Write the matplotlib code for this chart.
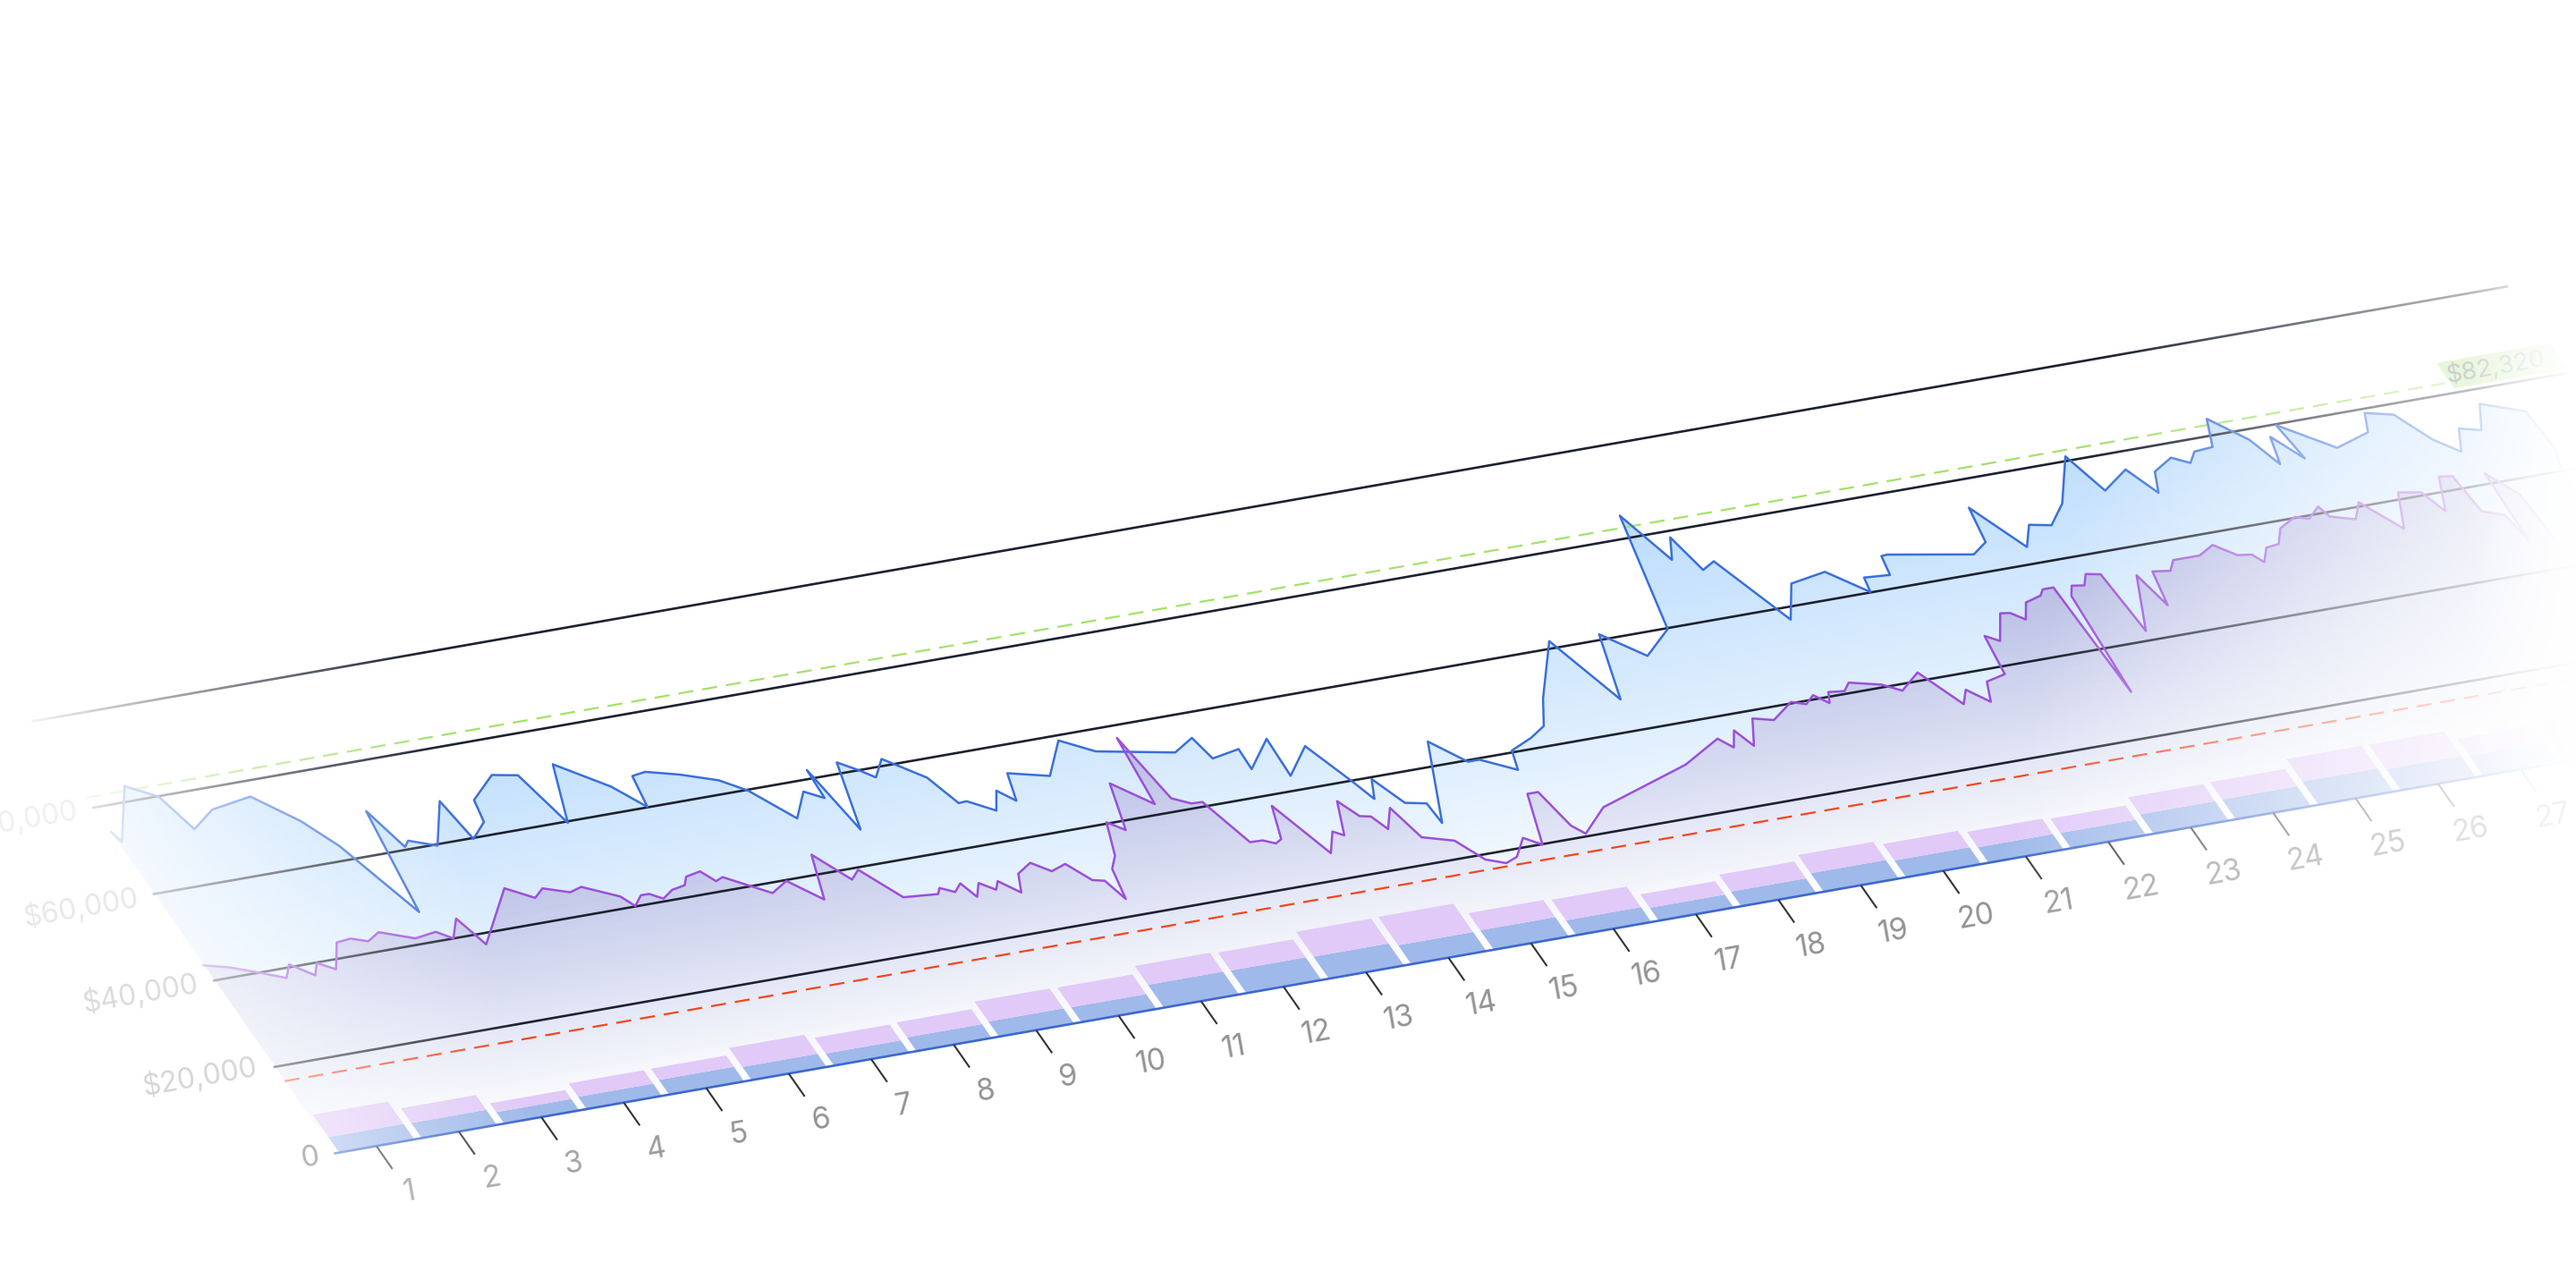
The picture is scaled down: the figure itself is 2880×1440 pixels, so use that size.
import numpy as np
import matplotlib
matplotlib.use("Agg")
import matplotlib.pyplot as plt
from matplotlib.patches import FancyBboxPatch
from matplotlib.path import Path
from matplotlib.transforms import Affine2D

plt.rcParams["font.family"] = ["Inter", "DejaVu Sans"]

# values: x is the position along the day axis
blue_x = [0.01, 0.05, 0.50, 0.79, 0.93, 1.27, 1.78, 2.14, 2.37, 2.73, 2.92, 3.07, 3.15, 3.43, 3.79, 3.87,
          4.11, 4.17, 4.55, 4.83, 5.01, 5.29, 5.75, 5.99, 6.06, 6.23, 6.58, 6.96, 7.20, 7.52, 7.79, 7.97,
          7.99, 8.12, 8.37, 8.55, 8.68, 8.88, 9.23, 9.38, 9.48, 9.73, 9.88, 10.02, 10.13, 10.57, 10.93,
          11.25, 12.10, 12.39, 12.46, 12.81, 12.80, 13.19, 13.17, 13.55, 13.79, 13.90, 14.02, 14.20,
          14.43, 14.45, 14.91, 15.19, 15.33, 15.67, 15.75, 16.05, 16.28, 16.48, 16.98, 17.31, 17.57,
          17.93, 18.35, 18.69, 18.92, 19.07, 19.18, 19.36, 19.75, 20.03, 20.48, 20.82, 20.86, 21.16,
          21.21, 21.28, 22.22, 22.44, 22.52, 22.85, 23.04, 23.28, 23.56, 23.95, 24.12, 24.50, 24.68,
          24.80, 25.08, 25.25, 25.38, 25.61, 25.76, 26.06, 26.21, 26.31, 26.52, 26.46, 26.95, 27.40,
          27.51, 27.81, 28.04, 28.26, 28.41, 28.64, 28.82, 29.26, 29.30, 29.21]
blue_y = [74300, 71900, 83300, 79900, 71900, 75300, 76600, 69700, 63100, 46700, 69400, 60600, 61800, 59700,
          68800, 59800, 62900, 67800, 72300, 71300, 59700, 72300, 65600, 60100, 67000, 67400, 65600, 63000,
          59800, 52300, 57600, 55500, 61900, 47700, 62400, 60000, 57900, 61500, 56000, 49600, 49700, 46700,
          50800, 48000, 54000, 51900, 58900, 55300, 52200, 54600, 49600, 50600, 46000, 51700, 43200, 48800,
          39900, 35400, 39600, 33500, 32600, 28000, 45300, 39700, 39700, 36200, 40400, 42300, 44300, 50000,
          61600, 47000, 61200, 55000, 59800, 84900, 73900, 78600, 70700, 72100, 57300, 64700, 65900, 60100,
          63300, 62900, 67100, 67200, 64100, 66200, 73900, 63700, 68200, 67300, 71400, 81000, 72500, 76100,
          70100, 74600, 76900, 75100, 77300, 77600, 83600, 77800, 71600, 77600, 71900, 79800, 72900, 75000,
          79100, 77700, 71200, 67600, 72500, 71300, 76800, 73600, 64800, 60700]

purple_x = [0.00, 0.27, 0.53, 0.80, 0.93, 1.13, 1.24, 1.40, 1.61, 1.79, 1.96, 2.14, 2.49, 2.76, 2.90, 3.08,
            3.21, 3.83, 4.09, 4.24, 4.51, 4.67, 5.02, 5.11, 5.25, 5.35, 5.47, 5.63, 5.80, 5.88, 6.07, 6.17,
            6.27, 6.69, 6.93, 7.20, 7.40, 7.65, 7.79, 8.07, 8.47, 8.53, 8.67, 8.79, 8.87, 8.99, 9.13, 9.21,
            9.38, 9.49, 9.70, 9.87, 10.07, 10.24, 10.37, 10.46, 10.54, 10.67, 10.83, 10.98, 11.16, 11.49,
            11.58, 11.71, 11.89, 12.02, 12.23, 12.38, 12.50, 12.59, 12.74, 13.02, 13.20, 13.30, 13.48, 13.61,
            13.73, 13.82, 14.00, 14.12, 14.45, 14.64, 14.84, 15.00, 15.21, 15.37, 15.59, 15.72, 15.82, 15.92,
            16.31, 17.52, 18.06, 18.17, 18.30, 18.40, 18.59, 18.81, 19.13, 19.28, 19.42, 19.54, 19.61, 19.79,
            19.90, 20.24, 20.42, 20.72, 20.98, 21.11, 21.29, 21.40, 21.65, 21.72, 21.85, 22.06, 22.17, 22.29,
            22.42, 22.63, 22.70, 22.83, 22.88, 22.96, 23.04, 23.18, 23.28, 23.44, 23.50, 23.82, 23.93, 24.02,
            24.22, 24.33, 24.65, 24.87, 25.06, 25.22, 25.30, 25.43, 25.59, 25.73, 25.97, 26.11, 26.30, 26.35,
            26.61, 26.77, 27.06, 27.27, 27.52, 27.64, 27.83, 27.98, 28.03, 28.25, 28.32, 28.35, 28.57, 28.61]
purple_y = [43500, 42100, 40100, 37900, 40600, 37400, 39900, 37900, 43400, 43700, 42500, 44000, 41400, 42000,
            40000, 44000, 37600, 48500, 45400, 47100, 45300, 46000, 42600, 40100, 42100, 42100, 40600, 42100,
            42600, 44300, 44900, 42300, 42900, 37800, 39800, 34600, 44300, 37700, 39500, 32200, 31600, 32800,
            31400, 33000, 29600, 32400, 30400, 32100, 28900, 32900, 34700, 32200, 33200, 28900, 28300, 23800,
            30500, 33100, 40300, 38000, 48200, 42300, 57300, 42900, 41100, 41000, 31000, 30900, 29800, 30500,
            37700, 25800, 30200, 29000, 36300, 32400, 31900, 28700, 33000, 25800, 23900, 18900, 17400, 18300,
            22000, 19900, 30900, 30900, 22800, 20600, 25400, 31200, 35400, 33000, 36500, 32600, 38300, 37200,
            40300, 39300, 40900, 38700, 41000, 40600, 42200, 40600, 38600, 41800, 33600, 36500, 33100, 37400,
            38300, 46900, 45300, 51000, 50700, 48800, 52300, 53200, 54400, 54400, 30100, 52000, 54100, 53700,
            56000, 55400, 42100, 53900, 46600, 54100, 53600, 55700, 55700, 57400, 54400, 54000, 52000, 54900,
            55200, 58400, 60200, 59300, 61500, 59000, 57500, 60900, 53800, 61500, 60700, 55900, 63300, 62900,
            54600, 53000, 47100, 62300, 56700, 46100]

bar_blue = [3600, 3500, 2650, 2850, 3400, 3050, 2800, 3200, 3500, 3450, 5300, 5250, 5100, 4400, 4500,
            3450, 3000, 3400, 4300, 3900, 3600, 3550, 4500, 4600, 5400, 4900, 4600, 4500, 4000, 3500]
bar_purple = [5150, 3400, 2050, 3100, 2600, 4400, 3650, 3450, 4600, 4550, 4350, 4150, 5750, 6550, 3950,
              4750, 3100, 3900, 4200, 3800, 3550, 3300, 3950, 4000, 5200, 5700, 4000, 4500, 4000, 3500]
day_labels = [str(i) for i in range(1, 28)]
grid_values = [20000, 40000, 60000, 80000, 100000]
value_labels = ["0", "$20,000", "$40,000", "$60,000", "$80,000"]
label_values = [0, 20600, 40000, 59800, 80000]
target_value = 82320
floor_value = 16700

# grey of each label, they fade out towards both ends of the chart
day_greys = ["#b5b5b5", "#adadad", "#a5a5a5", "#9c9c9c", "#969696"] + ["#939393"] * 15 + \
            ["#a0a0a0", "#b4b4b4", "#bdbdbd", "#c8c8c8", "#d2d2d2", "#e2e2e2", "#f2f2f2"]
value_greys = ["#b4b4b4", "#d6d6d6", "#dcdcdc", "#e8e8e8", "#f0f0f0"]

fig = plt.figure(figsize=(14.4, 7.2), dpi=200, facecolor="white")
ax = fig.add_axes([0, 0, 1, 1])
ax.set_axis_off()
ax_top = fig.add_axes([0, 0, 1, 1], zorder=30)
ax_top.set_axis_off()

# the whole chart is drawn tilted, this maps (day, value) to pixels
skew = Affine2D.from_values(92.2, 16.2, -0.00338, 0.00483, 374.7, 150.6)


def gradient_area(x, y, rgb, top_alpha, top_value, z):
    verts = [(x[0], 0)] + list(zip(x, y)) + [(x[-1], 0)]
    ramp = np.clip(np.linspace(0, 100000, 400) / top_value, 0, 1.2) * top_alpha
    img = np.zeros((400, 2, 4))
    img[..., :3] = rgb
    img[..., 3] = ramp[:, None]
    im = ax.imshow(img, extent=(0, 30, 0, 100000), origin="lower", aspect="auto",
                   interpolation="bilinear", transform=skew, zorder=z)
    im.set_clip_path(Path(verts + [verts[0]]), transform=skew)


gradient_area(blue_x, blue_y, (0.22, 0.60, 0.98), 0.34, 85000, 1)
gradient_area(purple_x, purple_y, (0.43, 0.27, 0.63), 0.30, 65000, 1.5)

for v in grid_values:
    ax.plot([0, 30], [v, v], color="#1d2130", lw=0.95, transform=skew, zorder=2)

ax.plot([0, 28.6], [target_value] * 2, color="#a3e26a", lw=0.8, dashes=(7.6, 4.5), transform=skew, zorder=2)
ax.plot([0, 28.6], [floor_value] * 2, color="#f4451f", lw=0.8, dashes=(7.6, 4.5), transform=skew, zorder=2)

days = np.arange(30)
ax.bar(days + 0.05, bar_blue, width=0.91, align="edge", color="#9fb9ea", lw=0, transform=skew, zorder=3)
ax.bar(days + 0.05, bar_purple, width=0.91, align="edge", bottom=bar_blue, color="#e1c9f8", lw=0,
       transform=skew, zorder=3)

ax.plot(blue_x, blue_y, color="#3a6fdb", lw=0.9, transform=skew, zorder=4)
ax.plot(purple_x, purple_y, color="#9b4fd9", lw=0.9, transform=skew, zorder=4)

ax.plot([0, 30], [0, 0], color="#3d68cf", lw=0.95, transform=skew, zorder=5)
tick_x = days[:27] + 0.5
ax.vlines(tick_x, -5300, 0, color="#333333", lw=0.75, transform=skew, zorder=5)

for d, lab, grey in zip(tick_x, day_labels, day_greys):
    ax_top.text(d, -10800, lab, transform=skew, fontsize=12, color=grey, rotation=10,
                rotation_mode="anchor", ha="center", va="center")
for v, lab, grey in zip(label_values, value_labels, value_greys):
    ax_top.text(-0.2, v, lab, transform=skew, fontsize=11.5, color=grey, rotation=10,
                rotation_mode="anchor", ha="right", va="center")

ax.add_patch(FancyBboxPatch((28.66, 80900), 1.38, 5900, boxstyle="round,pad=0,rounding_size=0.07",
                            mutation_aspect=3000, fc="#b8e693", ec="none", transform=skew, zorder=5))
ax.text(29.27, 83800, "$82,320", transform=skew, fontsize=10, color="#626262", rotation=10,
        rotation_mode="anchor", ha="center", va="center", zorder=6)

ax.set_xlim(0, 30)
ax.set_ylim(0, 100000)
ax_top.set_xlim(0, 30)
ax_top.set_ylim(0, 100000)

# white veil fading both sides of the chart
yy, xx = np.mgrid[0:1440, 0:2880]
left = np.clip((xx - 0.25 * yy + 190) / 480, 0, 1)
right = np.clip((3140 - xx - 0.22 * yy) / 700, 0, 1) ** 1.4 * np.clip((2880 - xx) / 120, 0, 1)
veil = np.ones((1440, 2880, 4))
veil[..., 3] = 1 - np.minimum(left, right)
fig.figimage(veil, zorder=20, origin="upper")

fig.savefig("out.png", dpi=200)
